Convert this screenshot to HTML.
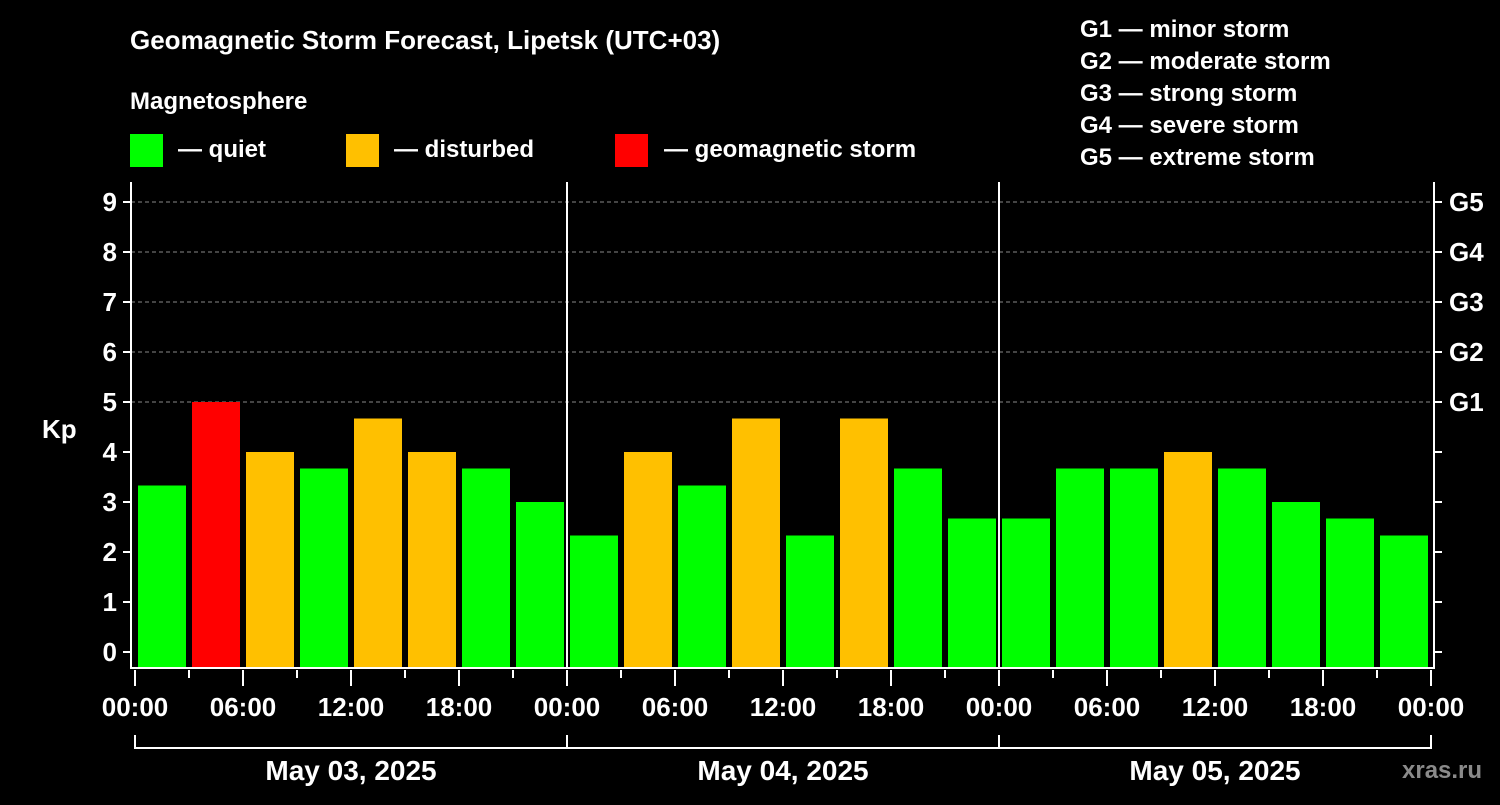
<!DOCTYPE html>
<html><head><meta charset="utf-8"><style>
body{margin:0;background:#000;width:1500px;height:800px;overflow:hidden;font-family:"Liberation Sans",Arial,sans-serif}
svg text{font-family:"Liberation Sans",Arial,sans-serif;font-weight:bold;fill:#fff}
</style></head><body>
<svg id="c" width="1500" height="800" xmlns="http://www.w3.org/2000/svg">
<text x="130" y="49" font-size="26">Geomagnetic Storm Forecast, Lipetsk (UTC+03)</text>
<text x="130" y="109" font-size="24">Magnetosphere</text>
<rect x="130" y="134" width="33" height="33" fill="#00ff00"/>
<text x="178" y="157" font-size="24">— quiet</text>
<rect x="346" y="134" width="33" height="33" fill="#ffc000"/>
<text x="394" y="157" font-size="24">— disturbed</text>
<rect x="615" y="134" width="33" height="33" fill="#ff0000"/>
<text x="664" y="157" font-size="24">— geomagnetic storm</text>
<g font-size="24">
<text x="1080" y="37">G1 — minor storm</text>
<text x="1080" y="69">G2 — moderate storm</text>
<text x="1080" y="101">G3 — strong storm</text>
<text x="1080" y="133">G4 — severe storm</text>
<text x="1080" y="165">G5 — extreme storm</text>
</g>
<text x="42" y="438" font-size="26">Kp</text>
<text x="1402" y="778" font-size="24" fill="#777" style="fill:#8a8a8a">xras.ru</text>
<g id="grid"></g><g id="bars"></g><g id="axes"></g>
</svg>
<script>
const days=["May 03, 2025","May 04, 2025","May 05, 2025"];
const kpValues=[3.33,5,4,3.67,4.67,4,3.67,3, 2.33,4,3.33,4.67,2.33,4.67,3.67,2.67, 2.67,3.67,3.67,4,3.67,3,2.67,2.33];
const yTicks=[0,1,2,3,4,5,6,7,8,9];
const gLabels=["G1","G2","G3","G4","G5"];
const hourLabels=["00:00","06:00","12:00","18:00"];
const NS="http://www.w3.org/2000/svg";
const X0=135,DAYW=432,BOTTOM=668,TOP=182,LEFT=131,RIGHT=1434;
const x=h=>X0+h*DAYW/24;
const y=v=>652-v*50;
function mk(tag,attrs,parent,txt){const e=document.createElementNS(NS,tag);for(const k in attrs)e.setAttribute(k,attrs[k]);if(txt!==undefined)e.textContent=txt;parent.appendChild(e);return e;}
const grid=document.getElementById('grid'),bars=document.getElementById('bars'),axes=document.getElementById('axes');
yTicks.forEach(t=>{
  if(t>=5){const l=mk('line',{x1:LEFT,x2:RIGHT,y1:y(t),y2:y(t),stroke:'#888','stroke-dasharray':'4,3','stroke-width':1},grid);
  
  }
  const tk=mk('line',{x1:LEFT-8,x2:LEFT,y1:y(t),y2:y(t),stroke:'#fff','stroke-width':2},axes);
  
  
  const rt=mk('line',{x1:RIGHT,x2:RIGHT+8,y1:y(t),y2:y(t),stroke:'#fff','stroke-width':2},axes);
  
  
  const lb=mk('text',{x:117,y:y(t)+9,'font-size':26,'text-anchor':'end'},axes,String(t));
  
  
});
gLabels.forEach((g,i)=>{
  const lb=mk('text',{x:1449,y:y(5+i)+9,'font-size':26},axes,g);
  
  
});
kpValues.forEach((v,i)=>{
  const col=v>=5?'#ff0000':(v>=4?'#ffc000':'#00ff00');
  const r=mk('rect',{x:x(i*3)+3,y:y(v),width:48,height:BOTTOM-y(v),fill:col},bars);
  
  
});
const fr=mk('path',{d:`M${LEFT},${TOP}V${BOTTOM}H${RIGHT}V${TOP}`,fill:'none',stroke:'#fff','stroke-width':2},axes);


for(let d=1;d<days.length;d++){
  const l=mk('line',{x1:x(d*24),x2:x(d*24),y1:TOP,y2:BOTTOM,stroke:'#fff','stroke-width':2},axes);
  
  
}
for(let h=0;h<=72;h+=3){
  const major=h%6===0;
  const t=mk('line',{x1:x(h),x2:x(h),y1:BOTTOM+2,y2:major?BOTTOM+18:BOTTOM+10,stroke:'#fff','stroke-width':2},axes);
  
  
  if(major){const lb=mk('text',{x:x(h),y:716,'font-size':26,'text-anchor':'middle'},axes,hourLabels[(h/6)%4]);
  
  }
}
days.forEach((d,i)=>{
  const b=mk('path',{d:`M${x(i*24)},735V748H${x(i*24+24)}V735`,fill:'none',stroke:'#fff','stroke-width':2},axes);
  
  
  const lb=mk('text',{x:x(i*24+12),y:780,'font-size':28,'text-anchor':'middle'},axes,d);
  
  
});
</script>
</body></html>
